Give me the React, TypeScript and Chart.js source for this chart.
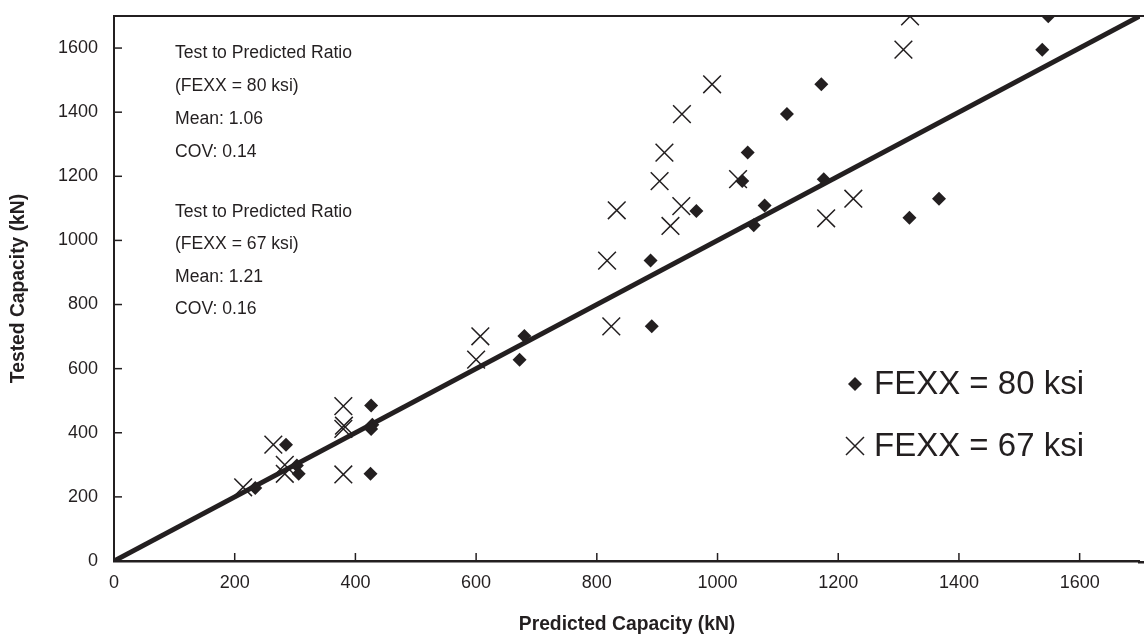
import React, { useEffect, useRef } from "react";
import { Chart, registerables } from "chart.js";

Chart.register(...registerables);

// FEXX = 80 ksi (diamonds)
const fexx80Predicted = [234, 285, 303, 306, 426, 428, 426, 425, 672, 680, 889, 891, 965, 1041, 1050, 1060, 1078, 1115, 1172, 1176, 1318, 1367, 1538, 1548];
const fexx80Tested = [228, 363, 298, 272, 485, 425, 412, 272, 628, 702, 937, 732, 1092, 1185, 1274, 1047, 1109, 1394, 1487, 1191, 1071, 1130, 1595, 1699];

// FEXX = 67 ksi (crosses)
const fexx67Predicted = [214, 264, 283, 283, 380, 381, 380, 380, 600, 607, 817, 824, 833, 904, 912, 922, 940, 941, 991, 1034, 1180, 1225, 1308, 1319];
const fexx67Tested = [230, 363, 300, 272, 483, 422, 412, 270, 628, 701, 937, 732, 1094, 1185, 1274, 1045, 1107, 1394, 1487, 1191, 1069, 1130, 1595, 1699];

// 1:1 reference line
const lineX = [0, 1700];
const lineY = [0, 1700];

const axisMin = 0;
const axisMax = 1700;
const tickStep = 100;
const tickValues = [0, 200, 400, 600, 800, 1000, 1200, 1400, 1600];

const xTitle = "Predicted Capacity (kN)";
const yTitle = "Tested Capacity (kN)";
const stats80Lines = ["Test to Predicted Ratio", "(FEXX = 80 ksi)", "Mean: 1.06", "COV: 0.14"];
const stats67Lines = ["Test to Predicted Ratio", "(FEXX = 67 ksi)", "Mean: 1.21", "COV: 0.16"];
const legendLabels = ["FEXX = 80 ksi", "FEXX = 67 ksi"];

const INK = "#231f20";
const FONT = "'Liberation Sans', Arial, Helvetica, sans-serif";

const decorPlugin = {
  id: "decor",
  afterDraw(chart: any) {
    const { ctx, chartArea, scales } = chart;
    const xs = scales.x;
    const ys = scales.y;
    ctx.save();
    ctx.strokeStyle = INK;
    // top border (runs to the edge of the figure)
    ctx.lineWidth = 2;
    ctx.beginPath();
    ctx.moveTo(chartArea.left, chartArea.top);
    ctx.lineTo(chart.width, chartArea.top);
    ctx.stroke();
    // bottom axis continues to the edge
    ctx.lineWidth = 2.5;
    ctx.beginPath();
    ctx.moveTo(chartArea.right - 2, chartArea.bottom + 1.25);
    ctx.lineTo(chart.width, chartArea.bottom + 1.25);
    ctx.stroke();
    // inward ticks
    ctx.lineWidth = 1.5;
    tickValues.forEach((v) => {
      const py = ys.getPixelForValue(v);
      ctx.beginPath();
      ctx.moveTo(chartArea.left, py);
      ctx.lineTo(chartArea.left + 8, py);
      ctx.stroke();
      const px = xs.getPixelForValue(v);
      ctx.beginPath();
      ctx.moveTo(px, chartArea.bottom);
      ctx.lineTo(px, chartArea.bottom - 8);
      ctx.stroke();
    });
    // annotation text
    ctx.fillStyle = INK;
    ctx.font = `17.6px ${FONT}`;
    ctx.textAlign = "left";
    ctx.textBaseline = "middle";
    const tx = chartArea.left + 61;
    stats80Lines.forEach((t, i) => ctx.fillText(t, tx, chartArea.top + 37 + i * 33));
    stats67Lines.forEach((t, i) => ctx.fillText(t, tx, chartArea.top + 196 + i * 32.5));
    // legend
    const lx = 855;
    const ly0 = 384;
    const ly1 = 446;
    ctx.font = `33px ${FONT}`;
    ctx.fillText(legendLabels[0], lx + 19, ly0 + 1);
    ctx.fillText(legendLabels[1], lx + 19, ly1 + 1);
    ctx.beginPath();
    ctx.moveTo(lx - 7, ly0);
    ctx.lineTo(lx, ly0 - 7);
    ctx.lineTo(lx + 7, ly0);
    ctx.lineTo(lx, ly0 + 7);
    ctx.closePath();
    ctx.fill();
    ctx.lineWidth = 1.5;
    ctx.beginPath();
    ctx.moveTo(lx - 9, ly1 - 9);
    ctx.lineTo(lx + 9, ly1 + 9);
    ctx.moveTo(lx + 9, ly1 - 9);
    ctx.lineTo(lx - 9, ly1 + 9);
    ctx.stroke();
    ctx.restore();
  },
};

export default function App() {
  const ref = useRef<HTMLCanvasElement | null>(null);

  useEffect(() => {
    if (!ref.current) return;
    const toPts = (xs: number[], ys: number[]) => xs.map((x, i) => ({ x, y: ys[i] }));
    const tickLabel = (v: any) => (tickValues.includes(Number(v)) ? String(v) : "");
    const chart = new Chart(ref.current, {
      type: "scatter",
      data: {
        datasets: [
          {
            label: legendLabels[0],
            data: toPts(fexx80Predicted, fexx80Tested),
            pointStyle: "rectRot",
            pointRadius: 7,
            backgroundColor: INK,
            borderColor: INK,
            borderWidth: 0,
          },
          {
            label: legendLabels[1],
            data: toPts(fexx67Predicted, fexx67Tested),
            pointStyle: "crossRot",
            pointRadius: 12.5,
            backgroundColor: INK,
            borderColor: INK,
            borderWidth: 1.5,
          },
          {
            label: "1:1",
            data: toPts(lineX, lineY),
            showLine: true,
            pointRadius: 0,
            borderColor: INK,
            borderWidth: 5,
            fill: false,
          },
        ],
      },
      options: {
        responsive: false,
        animation: false,
        events: [],
        layout: { autoPadding: false, padding: { left: 0, top: 16, right: 4, bottom: 0 } },
        plugins: {
          legend: { display: false },
          tooltip: { enabled: false },
        },
        scales: {
          x: {
            type: "linear",
            min: axisMin,
            max: axisMax,
            afterFit: (s: any) => {
              s.height = 80;
              s.paddingLeft = 0;
              s.paddingRight = 0;
            },
            ticks: {
              stepSize: tickStep,
              color: INK,
              font: { family: FONT, size: 18 },
              padding: 11,
              maxRotation: 0,
              autoSkip: false,
              callback: tickLabel,
            },
            grid: { display: true, drawOnChartArea: false, drawTicks: false, lineWidth: 0 },
            border: { display: true, color: INK, width: 2.5 },
            title: {
              display: true,
              text: xTitle,
              color: INK,
              font: { family: FONT, size: 19.3, weight: "bold" },
              padding: { top: 0, bottom: 5 },
            },
          },
          y: {
            type: "linear",
            min: axisMin,
            max: axisMax,
            afterFit: (s: any) => {
              s.width = 114;
              s.paddingTop = 0;
              s.paddingBottom = 0;
            },
            ticks: {
              stepSize: tickStep,
              color: INK,
              font: { family: FONT, size: 18 },
              padding: 16,
              autoSkip: false,
              callback: tickLabel,
            },
            grid: { display: true, drawOnChartArea: false, drawTicks: false, lineWidth: 0 },
            border: { display: true, color: INK, width: 2 },
            title: {
              display: true,
              text: yTitle,
              color: INK,
              font: { family: FONT, size: 19.3, weight: "bold" },
              padding: { top: 7, bottom: 0 },
            },
          },
        },
      },
      plugins: [decorPlugin],
    });
    return () => chart.destroy();
  }, []);

  return (
    <div style={{ position: "absolute", left: 0, top: 0, width: 1144, height: 641, background: "#fff" }}>
      <canvas ref={ref} width={1144} height={641} style={{ display: "block", width: 1144, height: 641 }} />
    </div>
  );
}
